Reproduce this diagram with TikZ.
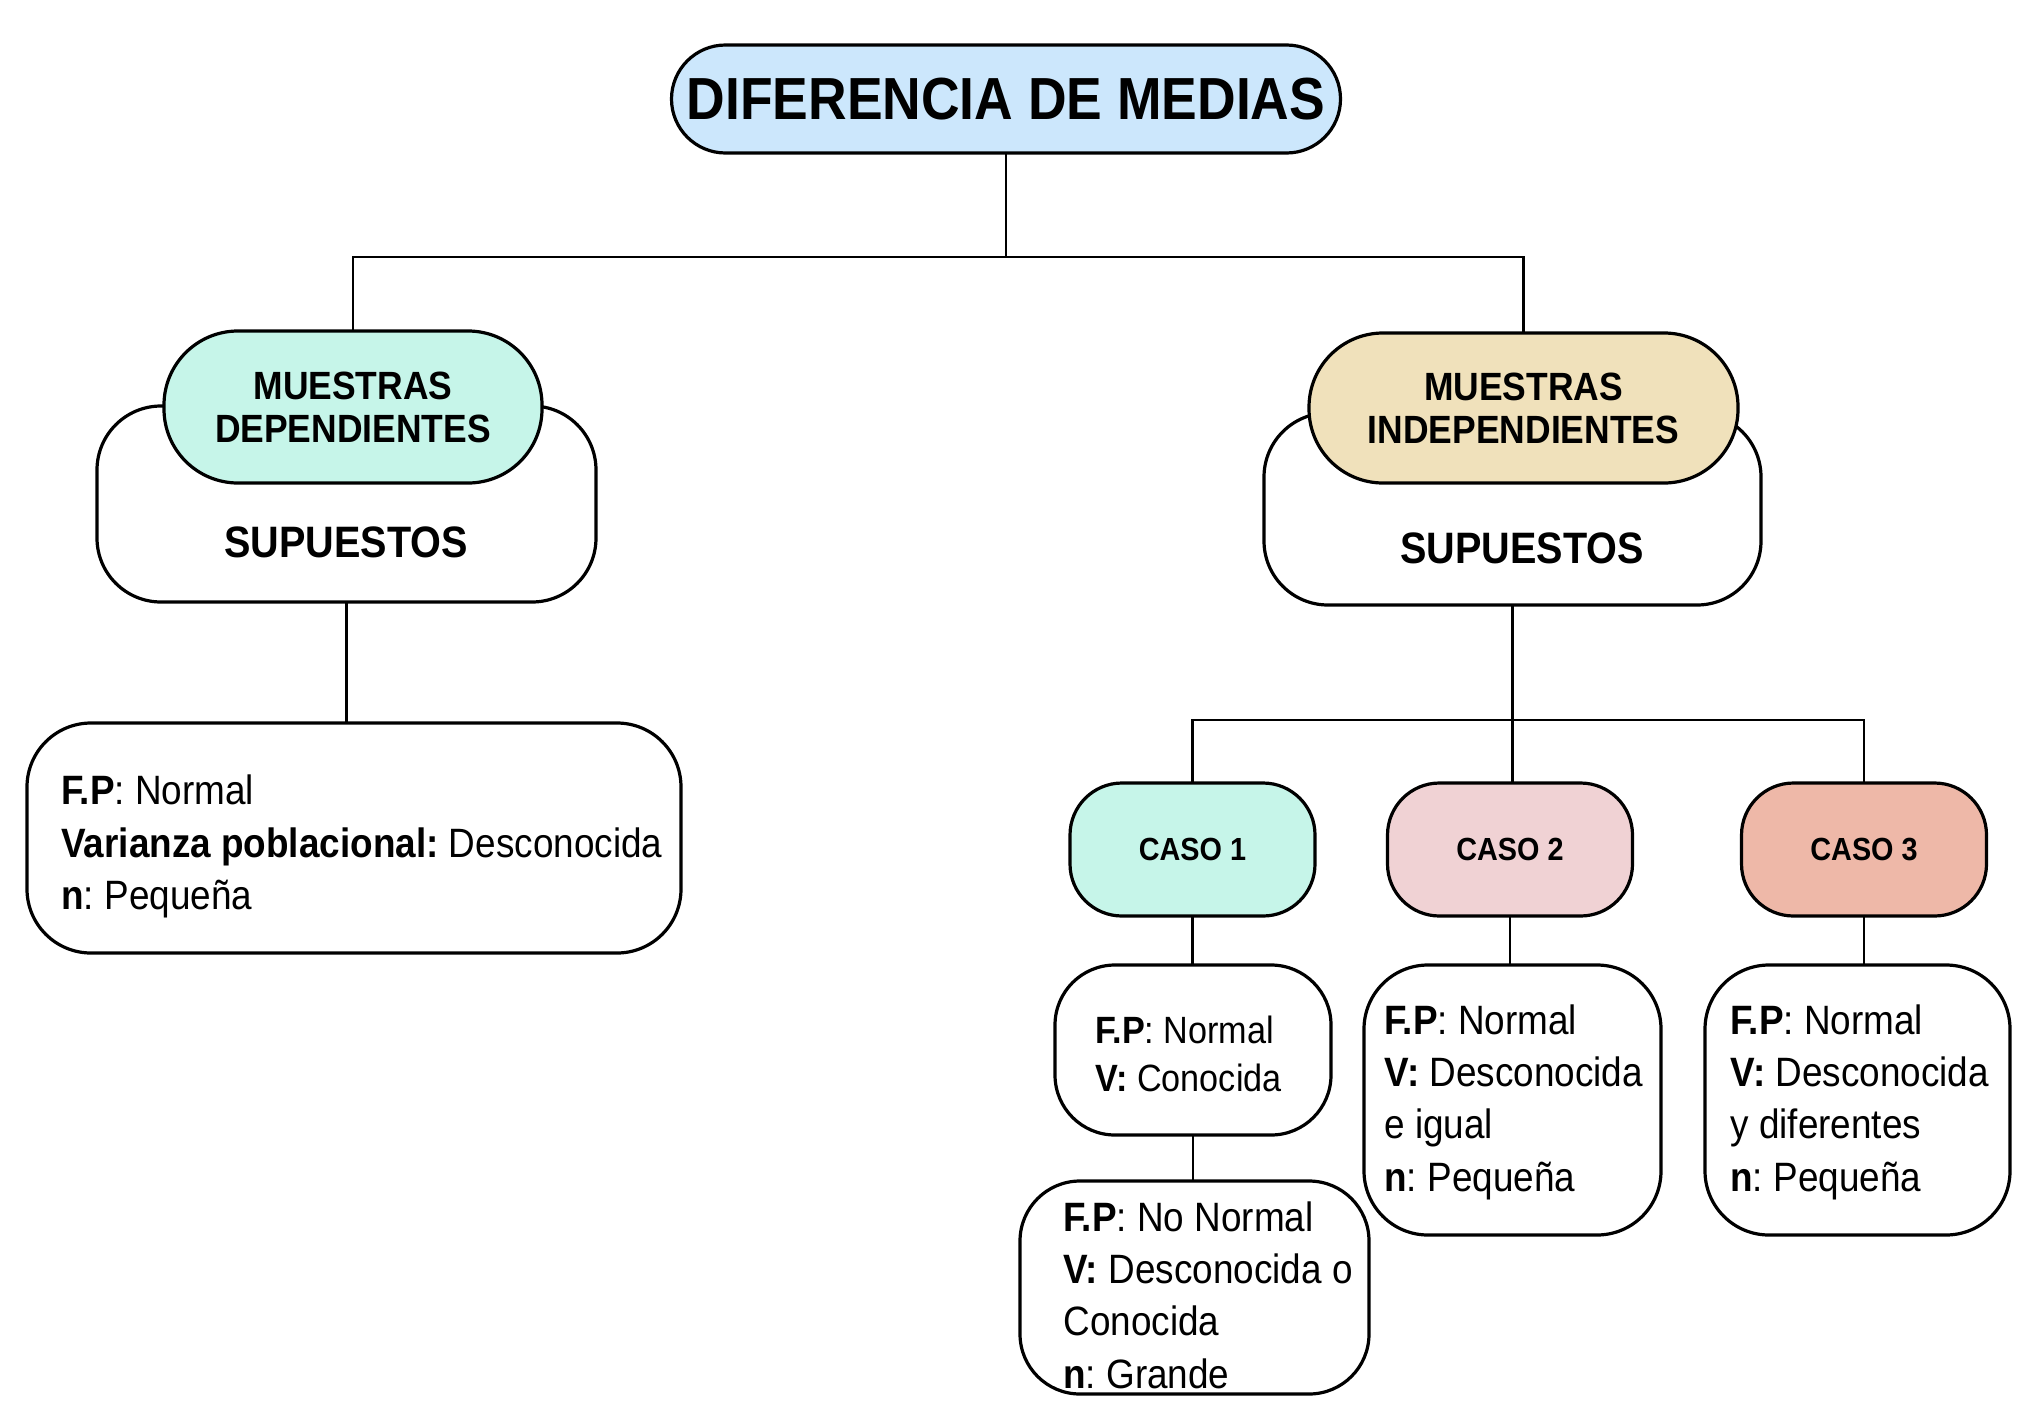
\documentclass[tikz,border=0pt]{standalone}
\usepackage{fontspec}
\setmainfont{Liberation Sans}[FakeStretch=0.9]
\definecolor{titleblue}{HTML}{CCE7FC}
\definecolor{mint}{HTML}{C6F5E9}
\definecolor{beige}{HTML}{F0E1BB}
\definecolor{pinkc}{HTML}{F0D2D4}
\definecolor{salmon}{HTML}{EEB8A8}
\newcommand\ftitle{\fontsize{29.7}{32}\selectfont\bfseries}
\newcommand\fpill{\fontsize{19.7}{21.5}\selectfont\bfseries}
\newcommand\fsupu{\fontsize{22}{24}\selectfont\bfseries}
\newcommand\fcaso{\fontsize{16}{18}\selectfont\bfseries}
\newcommand\finfo{\fontsize{20.5}{26.2}\selectfont}
\newcommand\finfosmall{\fontsize{19}{24}\selectfont}
\frenchspacing
\begin{document}
\frenchspacing
\begin{tikzpicture}[x=0.5pt,y=-0.5pt,
  box/.style={draw=black, line width=1.6pt, rounded corners=#1, inner sep=0pt, outer sep=0pt},
  box/.default=30pt,
  conn/.style={draw=black, line width=1.4pt},
  infot/.style={align=left, inner sep=0pt, font=\finfo},
  pill/.style={box=37pt, align=center, font=\fpill},
  caso/.style={box=26pt, minimum width=122.5pt, minimum height=66.5pt, font=\fcaso}]
\useasboundingbox (0,0) rectangle (2022,1408);

% title
\node[box=27pt, fill=titleblue, minimum width=334.5pt, minimum height=54pt, font=\ftitle] (title) at (1006,99) {DIFERENCIA DE MEDIAS};

% left branch
\node[box=32pt, fill=white, minimum width=249.5pt, minimum height=98pt] (supL) at (346.5,504) {};
\node[pill, fill=mint, minimum width=189pt, minimum height=76pt] (depP) at (353,407) {MUESTRAS\\DEPENDIENTES};
\node[font=\fsupu, inner sep=0pt] (supLt) at (346,542) {SUPUESTOS};

\node[box=32pt, minimum width=327pt, minimum height=115pt] (lbox) at (354,838) {};
\node[infot, anchor=west] (ltext) at (61,846.5) {\textbf{F.P}: Normal\\\textbf{Varianza poblacional:} Desconocida\\\textbf{n}: Pequeña};

% right branch
\node[box=32pt, fill=white, minimum width=248.5pt, minimum height=96pt] (supR) at (1512.5,509) {};
\node[pill, fill=beige, minimum width=214.5pt, minimum height=75pt] (indP) at (1523.5,408) {MUESTRAS\\INDEPENDIENTES};
\node[font=\fsupu, inner sep=0pt] (supRt) at (1522,548) {SUPUESTOS};

\node[caso, fill=mint] (c1) at (1192.5,849.5) {CASO 1};
\node[caso, fill=pinkc] (c2) at (1510,849.5) {CASO 2};
\node[caso, fill=salmon] (c3) at (1864,849.5) {CASO 3};

\node[box=30pt, minimum width=138pt, minimum height=85pt] (c1i) at (1193,1050) {};
\node[infot, font=\finfosmall, anchor=west] (c1it) at (1095,1054) {\textbf{F.P}: Normal\\\textbf{V:} Conocida};

\node[box=30pt, minimum width=174.5pt, minimum height=106.5pt] (c1l) at (1194.5,1287.5) {};
\node[infot, anchor=west] (c1lt) at (1063,1295) {\textbf{F.P}: No Normal\\\textbf{V:} Desconocida o\\Conocida\\\textbf{n}: Grande};

\node[box=32pt, minimum width=148.5pt, minimum height=135pt] (c2i) at (1512.5,1100) {};
\node[infot, anchor=west] (c2it) at (1384,1102) {\textbf{F.P}: Normal\\\textbf{V:} Desconocida\\e igual\\\textbf{n}: Pequeña};

\node[box=32pt, minimum width=152.5pt, minimum height=135pt] (c3i) at (1857.5,1100) {};
\node[infot, anchor=west] (c3it) at (1730,1102) {\textbf{F.P}: Normal\\\textbf{V:} Desconocida\\y diferentes\\\textbf{n}: Pequeña};

% connectors
\coordinate (hub) at (1006,257);
\draw[conn] (title.south) -- (hub);
\draw[conn] (depP.north) |- (hub) -| (indP.north);
\draw[conn] (supL.south) -- (supL.south |- lbox.north);
\coordinate (bar) at (1512.5,720);
\draw[conn] (supR.south) -- (supR.south |- c2.north);
\draw[conn] (c1.north) |- (bar) -| (c3.north);
\draw[conn] (c1.south) -- (c1.south |- c1i.north);
\draw[conn] (c2.south) -- (c2.south |- c2i.north);
\draw[conn] (c3.south) -- (c3.south |- c3i.north);
\draw[conn] (c1i.south) -- (c1i.south |- c1l.north);
\end{tikzpicture}
\end{document}
